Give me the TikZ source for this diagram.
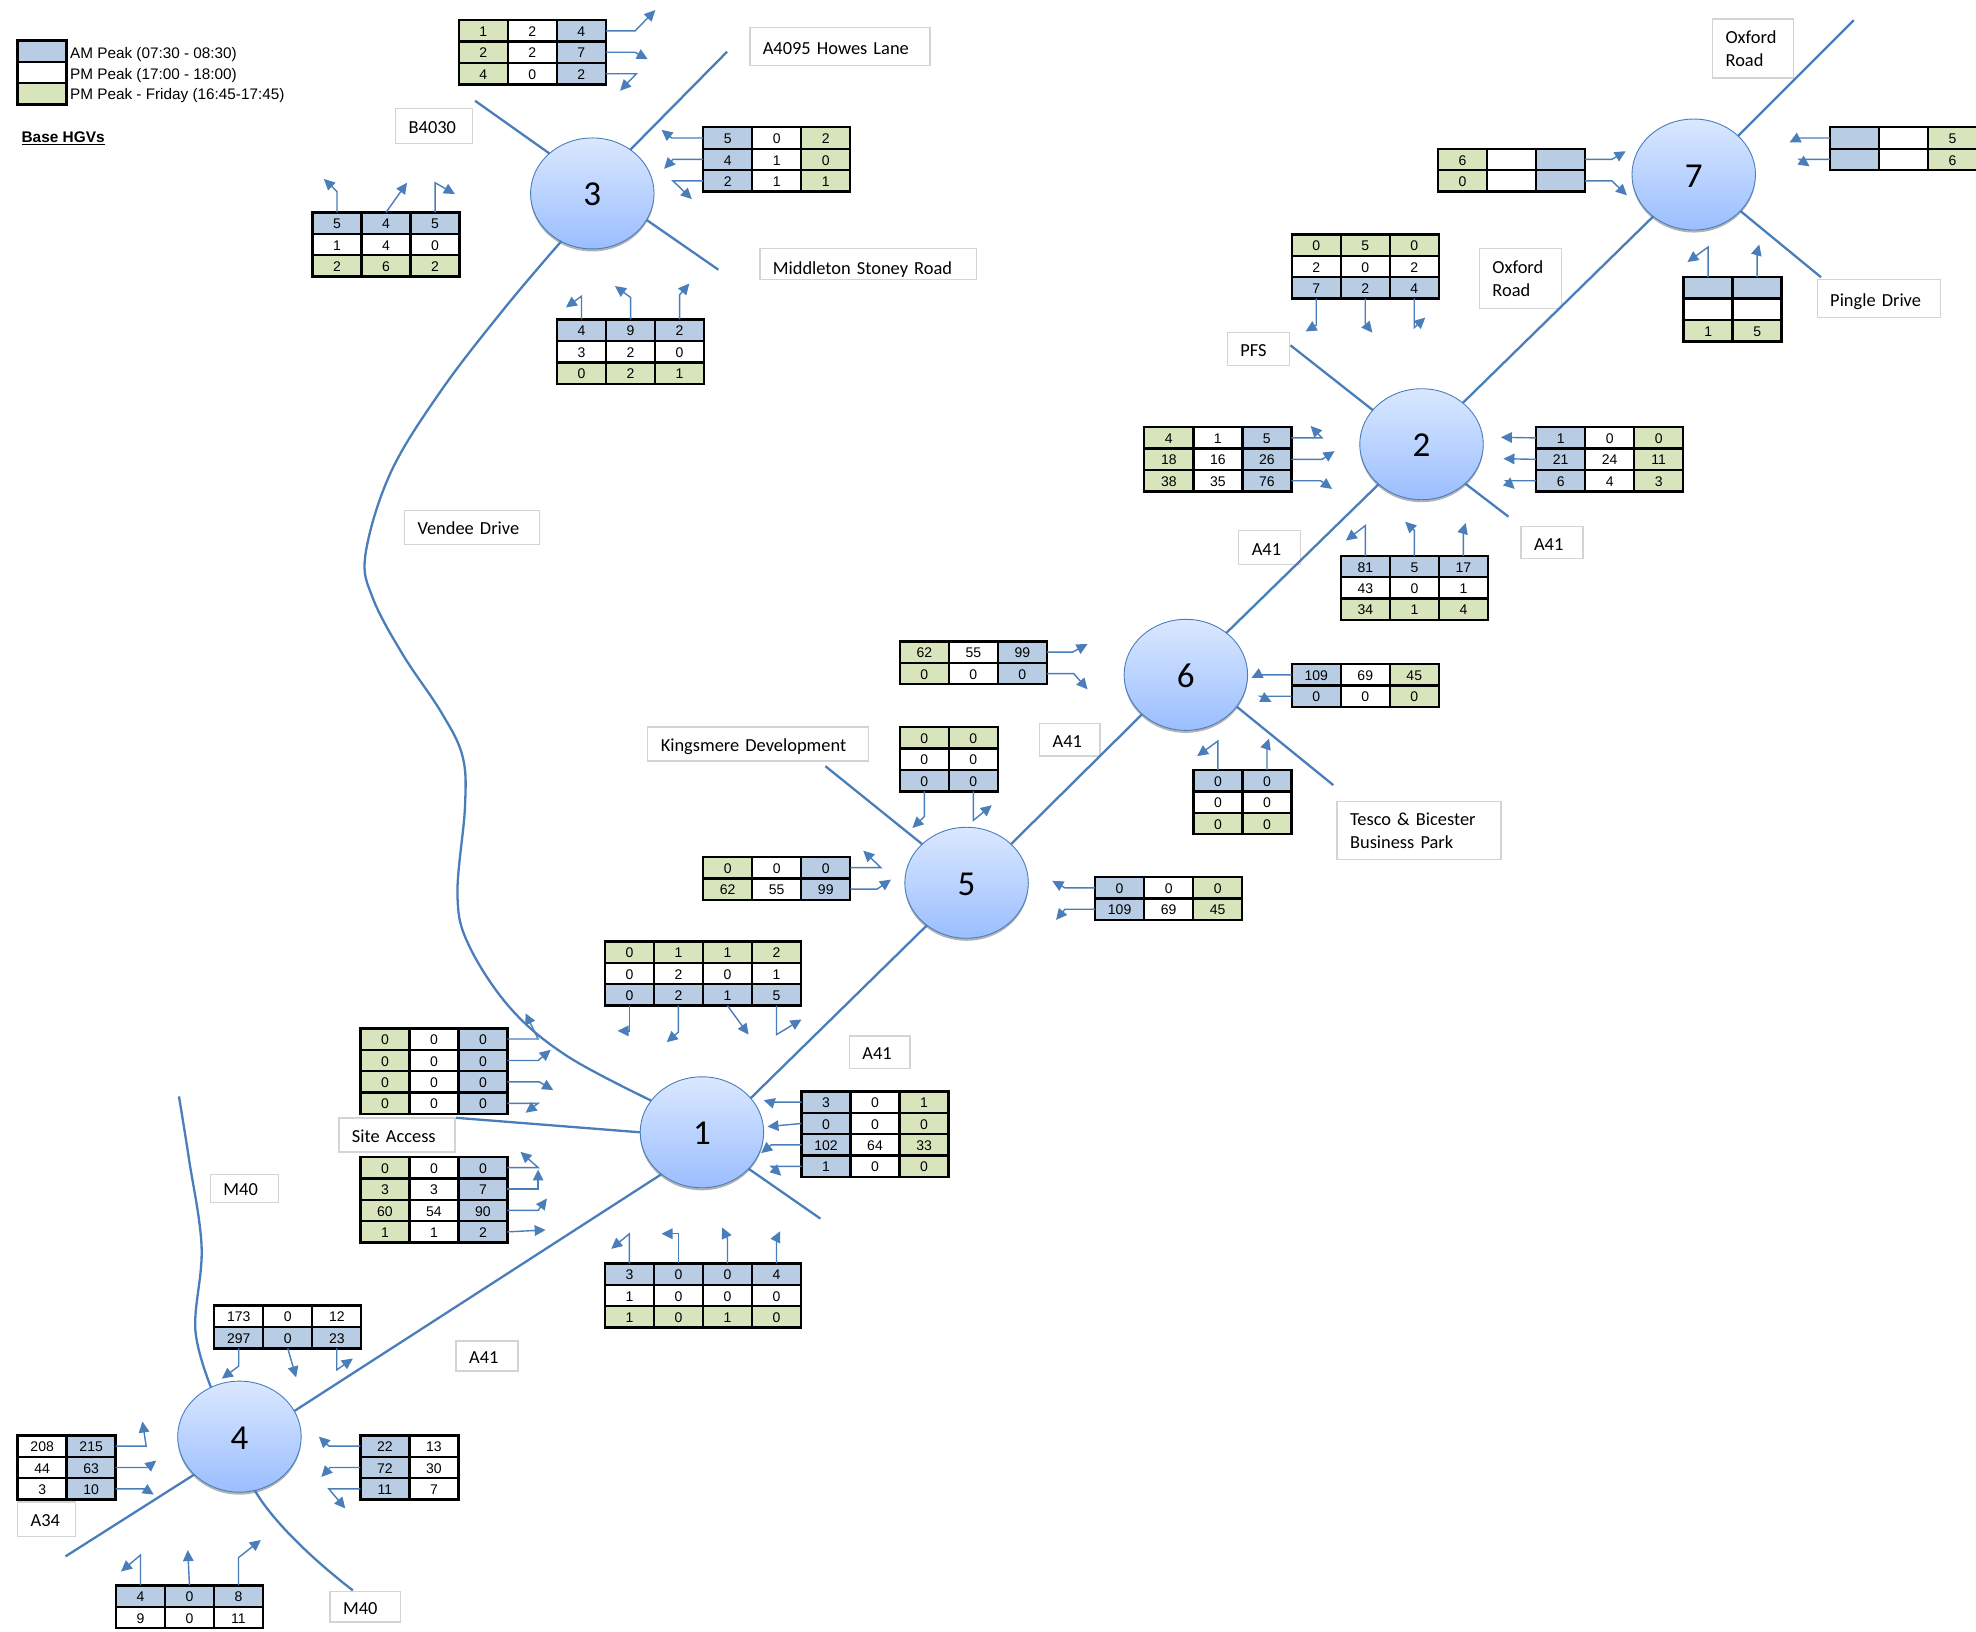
\documentclass[tikz,border=0pt]{standalone}
\usepackage{fontspec}
\setmainfont{Liberation Sans}
\newfontfamily\labfont{Carlito}
\usetikzlibrary{shapes.geometric,arrows.meta,shadows}
\definecolor{cola}{HTML}{B8CCE4}
\definecolor{colw}{HTML}{FFFFFF}
\definecolor{colg}{HTML}{D8E4BC}
\definecolor{roadc}{HTML}{4A7EBB}
\definecolor{labc}{HTML}{D4D4D4}
\definecolor{juntop}{HTML}{DAE8FF}
\definecolor{junbot}{HTML}{9BBEFF}
\tikzset{
  cell/.style={draw=black,line width=2.4pt,inner sep=0pt,outer sep=0pt,
    minimum width=49pt,minimum height=21.42pt,text height=11.2pt,text depth=0pt,
    font=\fontsize{14}{14}\selectfont},
  road/.style={draw=roadc,line width=2.3pt},
  arr/.style={draw=roadc,line width=1.4pt,-{Triangle[length=11pt,width=10.5pt]}},
  junction/.style={ellipse,draw=roadc,line width=.9pt,inner sep=0pt,outer sep=0pt,
    minimum width=123.5pt,minimum height=111pt,top color=juntop,bottom color=junbot,
    text height=25pt,text depth=0pt,
    font=\labfont\fontsize{35}{35}\selectfont,
    drop shadow={shadow xshift=0pt,shadow yshift=-2.5pt,opacity=.3,fill=black}},
  labelbox/.style={draw=labc,line width=1.4pt,fill=white,inner ysep=0pt,outer sep=0pt,
    align=left,font=\labfont\fontsize{18.4}{23}\selectfont},
  legendtext/.style={anchor=west,inner sep=0pt,font=\fontsize{15.3}{15.3}\selectfont}
}
\newcommand{\Sl}[1]{\rule[-5pt]{0pt}{25pt}#1}
\newcommand{\Tbl}[4]{%
  \foreach \rr [count=\ri from 0] in {#4} {%
    \foreach \ccol/\ctxt [count=\ci from 0] in \rr {%
      \node[cell,fill=col\ccol] (#1-\ri-\ci) at ({#2+(\ci+0.5)*38.9},{#3+(\ri+0.5)*17}) {\ctxt};
    }%
  }%
}
\newcommand{\Lab}[6]{%
  \pgfmathsetmacro{\lw}{(#4-#2)*1.2602}%
  \pgfmathsetmacro{\lh}{(#5-#3)*1.2602}%
  \pgfmathsetmacro{\ltw}{\lw-26}%
  \node[labelbox,minimum height=\lh pt,inner xsep=13pt,text width=\ltw pt] (#1) at ({(#2+#4)/2},{(#3+#5)/2}) {#6};
}
\newcommand{\HA}[4]{\draw[arr] (#1) -- (#1 -| #2,0) -- (#3,#4);}
\newcommand{\VA}[4]{\draw[arr] (#1) -- (#1 |- 0,#2) -- (#3,#4);}
\begin{document}
\begin{tikzpicture}[x=1.2602pt,y=-1.2602pt]
\useasboundingbox (0,0) rectangle (1568,1295);
\fill[white] (0,0) rectangle (1568,1295);

% legend
\Tbl{leg}{14}{32}{{a/{}},{w/{}},{g/{}}}
\node[legendtext] (legA) at (55.5,43) {AM Peak (07:30 - 08:30)};
\node[legendtext] (legB) at (55.5,60) {PM Peak (17:00 - 18:00)};
\node[legendtext] (legC) at (55.5,76) {PM Peak - Friday (16:45-17:45)};
\node[legendtext,font=\fontsize{15.4}{15.4}\selectfont\bfseries] (base) at (17,110) {\underline{Base HGVs}};

% labels
\Lab{lHowes}{595}{22}{738}{52}{\Sl{A4095 Howes Lane}}
\Lab{lB}{314}{86}{375}{114}{\Sl{B4030}}
\Lab{lMid}{603}{197}{775}{222}{\rule[-3pt]{0pt}{26pt}Middleton Stoney Road}
\Lab{lVen}{321}{405}{428}{432}{\Sl{Vendee Drive}}
\Lab{lOxA}{1359}{15}{1423}{62}{Oxford\\Road}
\Lab{lOxB}{1174}{197}{1239}{245}{Oxford\\Road}
\Lab{lPin}{1442}{222}{1540}{252}{\Sl{Pingle Drive}}
\Lab{lPFS}{974}{264}{1023}{290}{\Sl{PFS}}
\Lab{lA2w}{983}{421}{1032}{448}{\Sl{A41}}
\Lab{lA2e}{1207}{418}{1256}{443}{\Sl{A41}}
\Lab{lTes}{1061}{636}{1191}{682}{\rule{0pt}{14pt}Tesco \& Bicester\\Business Park}
\Lab{lA56}{825}{574}{873}{600}{\Sl{A41}}
\Lab{lKin}{514}{577}{689}{604}{\Sl{Kingsmere Development}}
\Lab{lA15}{674}{822}{722}{848}{\Sl{A41}}
\Lab{lSite}{269}{887}{361}{914}{\Sl{Site Access}}
\Lab{lM40a}{167}{932}{221}{954}{\Sl{M40}}
\Lab{lA14}{362}{1064}{411}{1088}{\Sl{A41}}
\Lab{lA34}{14}{1192}{60}{1219}{\Sl{A34}}
\Lab{lM40b}{262}{1263}{318}{1287}{\Sl{M40}}

% junctions
\node[junction] (n3) at (470,153.5) {3};
\node[junction] (n7) at (1344,138.5) {7};
\node[junction] (n2) at (1128,352.5) {2};
\node[junction] (n6) at (941,535.5) {6};
\node[junction] (n5) at (767,700.5) {5};
\node[junction] (n1) at (557,898.5) {1};
\node[junction] (n4) at (190,1140) {4};

% road ends
\coordinate (e3ne) at (577,41);
\coordinate (e3nw) at (377,80);
\coordinate (e3se) at (570,214);
\coordinate (e7ne) at (1471,16);
\coordinate (e7se) at (1445,220);
\coordinate (e2nw) at (1024,274);
\coordinate (e2se) at (1197,410);
\coordinate (e6se) at (1058,623);
\coordinate (e5nw) at (655,608);
\coordinate (e1w) at (362,887);
\coordinate (e1se) at (651,967);
\coordinate (e4nw) at (142,870);
\coordinate (e4sw) at (52,1235);
\coordinate (e4se) at (280,1262);

% roads
\draw[road] (n3.49) -- (e3ne);
\draw[road] (n3.137) -- (e3nw);
\draw[road] (n3.334) -- (e3se);
\draw[road] plot[smooth,tension=.6] coordinates {(n3.237) (400,245) (350,310) (310,375) (290,440) (296,475) (320,520) (350,565) (367,600) (369,640) (363,710) (372,750) (405,800) (450,838) (n1.148)};
\draw[road] (n7.41) -- (e7ne);
\draw[road] (n7.322) -- (e7se);
\draw[road] (n7.226) -- (n2.45);
\draw[road] (n2.145) -- (e2nw);
\draw[road] (n2.318) -- (e2se);
\draw[road] (n2.223) -- (n6.46);
\draw[road] (n6.222) -- (n5.41);
\draw[road] (n6.328) -- (e6se);
\draw[road] (n5.139) -- (e5nw);
\draw[road] (n5.227) -- (n1.35);
\draw[road] (n1.180) -- (e1w);
\draw[road] (n1.322) -- (e1se);
\draw[road] (n1.226) -- (n4.25);
\draw[road] plot[smooth,tension=.6] coordinates {(n4.120) (155,1055) (160,990) (150,920) (e4nw)};
\draw[road] (n4.220) -- (e4sw);
\draw[road] (n4.286) .. controls (215,1205) and (245,1235) .. (e4se);

% tables
\Tbl{t3n}{364}{16}{{g/1,w/2,a/4},{g/2,w/2,a/7},{g/4,w/0,a/2}}
\Tbl{t3e}{558}{101}{{a/5,w/0,g/2},{a/4,w/1,g/0},{a/2,w/1,g/1}}
\Tbl{t3w}{248}{168.5}{{a/5,a/4,a/5},{w/1,w/4,w/0},{g/2,g/6,g/2}}
\Tbl{t3s}{442}{253.5}{{a/4,a/9,a/2},{w/3,w/2,w/0},{g/0,g/2,g/1}}
\Tbl{t7w}{1141}{118}{{g/6,w/{},a/{}},{g/0,w/{},a/{}}}
\Tbl{t7e}{1452}{101}{{a/{},w/{},g/5},{a/{},w/{},g/6}}
\Tbl{t7s}{1336}{220}{{a/{},a/{}},{w/{},w/{}},{g/1,g/5}}
\Tbl{t2n}{1025}{186}{{g/0,g/5,g/0},{w/2,w/0,w/2},{a/7,a/2,a/4}}
\Tbl{t2w}{908}{339}{{g/4,w/1,a/5},{g/18,w/16,a/26},{g/38,w/35,a/76}}
\Tbl{t2e}{1219}{339}{{a/1,w/0,g/0},{a/21,w/24,g/11},{a/6,w/4,g/3}}
\Tbl{t2s}{1064}{441}{{a/81,a/5,a/17},{w/43,w/0,w/1},{g/34,g/1,g/4}}
\Tbl{t6w}{714}{509}{{g/62,w/55,a/99},{g/0,w/0,a/0}}
\Tbl{t6e}{1025}{527}{{a/109,w/69,g/45},{a/0,w/0,g/0}}
\Tbl{t6s}{947}{611}{{a/0,a/0},{w/0,w/0},{g/0,g/0}}
\Tbl{t5n}{714}{577}{{g/0,g/0},{w/0,w/0},{a/0,a/0}}
\Tbl{t5w}{558}{680}{{g/0,w/0,a/0},{g/62,w/55,a/99}}
\Tbl{t5e}{869}{696}{{a/0,w/0,g/0},{a/109,w/69,g/45}}
\Tbl{t1n}{480}{747}{{g/0,g/1,g/1,g/2},{w/0,w/2,w/0,w/1},{a/0,a/2,a/1,a/5}}
\Tbl{t1a}{286}{816}{{g/0,w/0,a/0},{g/0,w/0,a/0},{g/0,w/0,a/0},{g/0,w/0,a/0}}
\Tbl{t1b}{286}{918}{{g/0,w/0,a/0},{g/3,w/3,a/7},{g/60,w/54,a/90},{g/1,w/1,a/2}}
\Tbl{t1e}{636}{866}{{a/3,w/0,g/1},{a/0,w/0,g/0},{a/102,w/64,g/33},{a/1,w/0,g/0}}
\Tbl{t1s}{480}{1002.5}{{a/3,a/0,a/0,a/4},{w/1,w/0,w/0,w/0},{g/1,g/0,g/1,g/0}}
\Tbl{t4n}{170}{1036}{{w/173,w/0,w/12},{a/297,a/0,a/23}}
\Tbl{t4w}{14}{1139}{{w/208,a/215},{w/44,a/63},{w/3,a/10}}
\Tbl{t4e}{286}{1139}{{a/22,w/13},{a/72,w/30},{a/11,w/7}}
\Tbl{t4s}{92}{1258}{{a/4,a/0,a/8},{w/9,w/0,w/11}}

% arrows: junction 3
\HA{t3n-0-2.east}{504}{520}{8}
\HA{t3n-1-2.east}{504}{514}{47}
\HA{t3n-2-2.east}{505}{492}{72}
\HA{t3e-0-0.west}{533}{525}{103}
\HA{t3e-1-0.west}{534}{527}{134}
\HA{t3e-2-0.west}{534}{549}{158}
\VA{t3w-0-0.north}{152}{257}{142}
\draw[arr] (t3w-0-1.north) -- (323,145);
\VA{t3w-0-2.north}{145}{361}{154}
\VA{t3s-0-0.north}{235}{449}{244}
\VA{t3s-0-1.north}{236}{488}{227}
\VA{t3s-0-2.north}{234}{547}{225}
% junction 7
\HA{t7w-0-2.east}{1279}{1290}{120}
\HA{t7w-1-2.east}{1279}{1291}{155}
\HA{t7e-0-0.west}{1427}{1420}{113}
\HA{t7e-1-0.west}{1428}{1436}{132}
\VA{t7s-0-0.north}{196}{1339}{208}
\VA{t7s-0-1.north}{200}{1396}{194}
% junction 2
\VA{t2n-2-0.south}{258}{1036}{263}
\VA{t2n-2-1.south}{257}{1089}{264}
\VA{t2n-2-2.south}{260}{1131}{252}
\HA{t2w-0-2.east}{1049}{1040}{338}
\HA{t2w-1-2.east}{1049}{1059}{358}
\HA{t2w-2-2.east}{1048}{1057}{388}
\draw[arr] (t2e-0-0.west) -- (1191,347);
\draw[arr] (t2e-1-0.west) -- (1193,364);
\HA{t2e-2-0.west}{1195}{1202}{388}
\VA{t2s-0-0.north}{417}{1068}{429}
\VA{t2s-0-1.north}{421}{1115}{414}
\VA{t2s-0-2.north}{421}{1163}{415}
% junction 6
\HA{t6w-0-2.east}{851}{863}{511}
\HA{t6w-1-2.east}{852}{863}{547}
\HA{t6e-0-0.west}{998}{993}{538}
\HA{t6e-1-0.west}{1000}{1009}{557}
\VA{t6s-0-0.north}{588}{950}{600}
\VA{t6s-0-1.north}{591}{1007}{586}
% junction 5
\VA{t5n-2-0.south}{648}{724}{657}
\VA{t5n-2-1.south}{651}{787}{639}
\HA{t5w-0-2.east}{699}{685}{675}
\HA{t5w-1-2.east}{696}{707}{698}
\HA{t5e-0-0.west}{845}{835}{699}
\HA{t5e-1-0.west}{845}{838}{730}
% junction 1
\VA{t1n-2-0.south}{818}{490}{818}
\VA{t1n-2-1.south}{819}{529}{827}
\draw[arr] (t1n-2-2.south) -- (594,821);
\VA{t1n-2-3.south}{821}{636}{809}
\HA{t1a-0-2.east}{427}{417}{804}
\HA{t1a-1-2.east}{427}{437}{833}
\HA{t1a-2-2.east}{428}{439}{865}
\HA{t1a-3-2.east}{427}{417}{883}
\HA{t1b-0-2.east}{427}{413}{914}
\HA{t1b-1-2.east}{427}{427}{928}
\HA{t1b-2-2.east}{427}{434}{951}
\draw[arr] (t1b-3-2.east) -- (433,976);
\HA{t1e-0-0.west}{611}{606}{873}
\draw[arr] (t1e-1-0.west) -- (609,894);
\HA{t1e-2-0.west}{612}{604}{915}
\HA{t1e-3-0.west}{612}{620}{933}
\VA{t1s-0-0.north}{979}{485}{991}
\VA{t1s-0-1.north}{979}{525}{979}
\VA{t1s-0-2.north}{983}{573}{974}
\VA{t1s-0-3.north}{983}{619}{977}
% junction 4
\VA{t4n-1-0.south}{1084}{176}{1094}
\draw[arr] (t4n-1-1.south) -- (235,1093);
\VA{t4n-1-2.south}{1087}{280}{1078}
\HA{t4w-0-1.east}{116}{113}{1128}
\HA{t4w-1-1.east}{117}{124}{1159}
\HA{t4w-2-1.east}{115}{122}{1186}
\HA{t4e-0-0.west}{261}{253}{1140}
\HA{t4e-1-0.west}{262}{255}{1172}
\HA{t4e-2-0.west}{261}{274}{1197}
\VA{t4s-0-0.north}{1234}{96}{1247}
\draw[arr] (t4s-0-1.north) -- (149,1230);
\VA{t4s-0-2.north}{1236}{207}{1222}
\end{tikzpicture}
\end{document}
